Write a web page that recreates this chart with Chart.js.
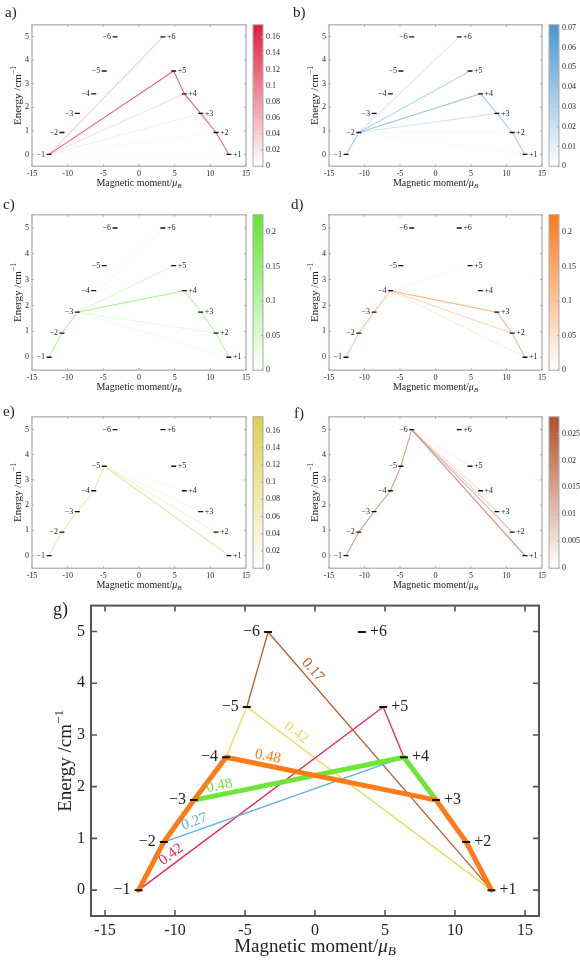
<!DOCTYPE html>
<html>
<head>
<meta charset="utf-8">
<script src="https://cdn.jsdelivr.net/npm/chart.js@4.4.1/dist/chart.umd.min.js"></script>
<style>
  body { margin: 0; background: #fff; width: 580px; height: 960px; position: relative; overflow: hidden; }
  .panel { position: absolute; }
</style>
</head>
<body>
<div class="panel" style="left:0;top:0;width:290px;height:191px"><canvas id="pa"></canvas></div>
<div class="panel" style="left:290px;top:0;width:290px;height:191px"><canvas id="pb"></canvas></div>
<div class="panel" style="left:0;top:190px;width:290px;height:205px"><canvas id="pc"></canvas></div>
<div class="panel" style="left:290px;top:190px;width:290px;height:205px"><canvas id="pd"></canvas></div>
<div class="panel" style="left:0;top:392px;width:290px;height:201px"><canvas id="pe"></canvas></div>
<div class="panel" style="left:290px;top:392px;width:290px;height:201px"><canvas id="pf"></canvas></div>
<div class="panel" style="left:0;top:590px;width:580px;height:370px"><canvas id="pg"></canvas></div>
<script>
// levels: name, magnetic moment (muB), energy (cm-1)
const levelNames = ["−1", "−2", "−3", "−4", "−5", "−6", "+1", "+2", "+3", "+4", "+5", "+6"];
const levelMoment = [-12.6, -10.8, -8.65, -6.35, -4.87, -3.35, 12.6, 10.8, 8.65, 6.35, 4.87, 3.35];
const levelEnergy = [0, 0.93, 1.74, 2.57, 3.54, 4.99, 0, 0.93, 1.74, 2.57, 3.54, 4.99];
const momentTicks = [-15, -10, -5, 0, 5, 10, 15];
const energyTicks = [0, 1, 2, 3, 4, 5];

// panels a-f: [from, to, value]
const transA = [["−1", "+6", 0.04], ["−1", "+5", 0.12], ["−1", "+4", 0.025], ["−1", "+3", 0.015],
  ["−1", "+2", 0.005], ["−1", "+1", 0.003], ["+5", "+4", 0.12], ["+4", "+3", 0.12], ["+3", "+2", 0.12], ["+2", "+1", 0.12]];
const transB = [["−1", "−2", 0.035], ["−2", "+6", 0.013], ["−2", "+5", 0.028], ["−2", "+4", 0.04], ["−2", "+3", 0.018],
  ["−2", "+2", 0.004], ["−2", "+1", 0.003], ["+4", "+3", 0.035], ["+3", "+2", 0.035], ["+2", "+1", 0.035]];
const transC = [["−1", "−2", 0.1], ["−2", "−3", 0.1], ["−3", "+6", 0.02], ["−3", "+5", 0.05], ["−3", "+4", 0.13],
  ["−3", "+2", 0.04], ["−3", "+1", 0.025], ["+4", "+3", 0.1], ["+3", "+2", 0.1], ["+2", "+1", 0.1]];
const transD = [["−1", "−2", 0.1], ["−2", "−3", 0.1], ["−3", "−4", 0.1], ["−4", "+5", 0.012], ["−4", "+3", 0.13],
  ["−4", "+2", 0.07], ["−4", "+1", 0.03], ["+3", "+2", 0.12], ["+2", "+1", 0.12]];
const transE = [["−1", "−2", 0.08], ["−2", "−3", 0.08], ["−3", "−4", 0.08], ["−4", "−5", 0.08], ["−5", "+4", 0.02],
  ["−5", "+3", 0.03], ["−5", "+2", 0.05], ["−5", "+1", 0.1]];
const transF = [["−1", "−2", 0.015], ["−2", "−3", 0.015], ["−3", "−4", 0.015], ["−4", "−5", 0.015], ["−5", "−6", 0.015],
  ["−6", "+5", 0.002], ["−6", "+4", 0.004], ["−6", "+3", 0.007], ["−6", "+2", 0.012], ["−6", "+1", 0.018]];
const cbMax = [0.1755, 0.0715, 0.225, 0.225, 0.176, 0.0281];
const cbStep = [0.02, 0.01, 0.05, 0.05, 0.02, 0.005];

// panel g: pathways and their values
const pathOrange = ["−1", "−2", "−3", "−4", "+3", "+2", "+1"];
const pathGreen = ["−3", "+4", "+3"];
const pathBlue = ["−2", "+4"];
const pathRed = ["−1", "+5", "+4"];
const pathYellow = ["−4", "−5", "+1"];
const pathBrown = ["−5", "−6", "+1"];
const pathValues = ["0.48", "0.48", "0.27", "0.42", "0.42", "0.17"];

const SERIF = "'Liberation Serif', 'DejaVu Serif', serif";
Chart.defaults.font.family = SERIF;
Chart.defaults.color = "#222";

function pt(n) {
  const i = levelNames.indexOf(n);
  return { x: levelMoment[i], y: levelEnergy[i] };
}
function rgb(c) { return "rgb(" + c.join(",") + ")"; }
function mix(c, f) {
  f = Math.max(0, Math.min(1, f));
  return rgb(c.map(v => Math.round(255 + (v - 255) * f)));
}

function drawRich(ctx, parts, x, y, size) {
  let w = 0;
  const fnt = p => (p[1] ? "italic " : "") + (size * p[2]) + "px " + SERIF;
  parts.forEach(p => { ctx.font = fnt(p); w += ctx.measureText(p[0]).width; });
  let cx = x - w / 2;
  ctx.textAlign = "left";
  ctx.textBaseline = "middle";
  parts.forEach(p => {
    ctx.font = fnt(p);
    ctx.fillText(p[0], cx, y + p[3] * size);
    cx += ctx.measureText(p[0]).width;
  });
}

const figPlugin = {
  id: "fig",
  beforeDatasetsDraw(chart, args, o) {
    if (!o.cb) return;
    const { ctx, chartArea: a, scales } = chart;
    const cb = scales.cb;
    const x0 = a.right + 7, w = 10;
    ctx.save();
    const g = ctx.createLinearGradient(0, a.bottom, 0, a.top);
    g.addColorStop(0, "#fff");
    g.addColorStop(1, rgb(o.cb));
    ctx.fillStyle = g;
    ctx.fillRect(x0, a.top, w, a.bottom - a.top);
    ctx.strokeStyle = o.frame;
    ctx.lineWidth = 1;
    ctx.strokeRect(x0, a.top, w, a.bottom - a.top);
    cb.ticks.forEach(t => {
      const y = cb.getPixelForValue(t.value);
      ctx.beginPath(); ctx.moveTo(x0 + w, y); ctx.lineTo(x0 + w - 2, y); ctx.stroke();
    });
    ctx.restore();
  },
  afterDatasetsDraw(chart, args, o) {
    const { ctx, chartArea: a, scales: { x, y } } = chart;
    ctx.save();
    // frame with inner ticks on all sides
    ctx.strokeStyle = o.frame;
    ctx.lineWidth = o.frameW;
    ctx.strokeRect(a.left, a.top, a.right - a.left, a.bottom - a.top);
    ctx.lineWidth = o.frameW * 0.8;
    x.ticks.forEach(t => {
      const px = x.getPixelForValue(t.value);
      ctx.beginPath();
      ctx.moveTo(px, a.bottom); ctx.lineTo(px, a.bottom - o.tick);
      ctx.moveTo(px, a.top); ctx.lineTo(px, a.top + o.tick);
      ctx.stroke();
    });
    y.ticks.forEach(t => {
      const py = y.getPixelForValue(t.value);
      ctx.beginPath();
      ctx.moveTo(a.left, py); ctx.lineTo(a.left + o.tick, py);
      ctx.moveTo(a.right, py); ctx.lineTo(a.right - o.tick, py);
      ctx.stroke();
    });
    // level names
    ctx.fillStyle = "#222";
    ctx.font = o.levelSize + "px " + SERIF;
    ctx.textBaseline = "middle";
    levelNames.forEach((n, i) => {
      const px = x.getPixelForValue(levelMoment[i]);
      const py = y.getPixelForValue(levelEnergy[i]);
      if (n[0] === "−") { ctx.textAlign = "right"; ctx.fillText(n, px - o.levelGap, py); }
      else { ctx.textAlign = "left"; ctx.fillText(n, px + o.levelGap, py); }
    });
    // values along pathways
    (o.values || []).forEach(v => {
      const p0 = pt(v.from), p1 = pt(v.to);
      const x0 = x.getPixelForValue(p0.x), y0 = y.getPixelForValue(p0.y);
      const x1 = x.getPixelForValue(p1.x), y1 = y.getPixelForValue(p1.y);
      const ang = Math.atan2(y1 - y0, x1 - x0);
      ctx.save();
      ctx.translate(x0 + (x1 - x0) * v.at, y0 + (y1 - y0) * v.at);
      ctx.rotate(ang);
      ctx.fillStyle = v.color;
      ctx.font = o.valueSize + "px " + SERIF;
      ctx.textAlign = "center";
      ctx.textBaseline = "middle";
      ctx.fillText(v.text, 0, -9);
      ctx.restore();
    });
    // axis titles
    ctx.fillStyle = "#222";
    drawRich(ctx, [["Magnetic moment/", false, 1, 0], ["μ", true, 1, 0], ["B", true, 0.7, 0.25]],
      (a.left + a.right) / 2, a.bottom + o.xTitleOff, o.titleSize);
    ctx.save();
    ctx.translate(a.left - o.yTitleOff, (a.top + a.bottom) / 2);
    ctx.rotate(-Math.PI / 2);
    drawRich(ctx, [["Energy /cm", false, 1, 0], ["−1", false, 0.7, -0.35]], 0, 0, o.yTitleSize);
    ctx.restore();
    // panel letter
    ctx.font = o.letterSize + "px " + SERIF;
    ctx.textAlign = "left";
    ctx.textBaseline = "middle";
    ctx.fillText(o.letter[0], o.letter[1], o.letter[2]);
    ctx.restore();
  }
};

function levelDataset(r, w) {
  return {
    data: levelNames.map((n, i) => ({ x: levelMoment[i], y: levelEnergy[i] })),
    showLine: false, pointStyle: "line", pointRadius: r, pointHoverRadius: r,
    borderColor: "#111", backgroundColor: "#111", borderWidth: w
  };
}

function axis(min, max, step, size, pad, fit, fixed) {
  const s = {
    type: "linear", min, max,
    ticks: { stepSize: step, includeBounds: false, autoSkip: false, maxRotation: 0, padding: pad, font: { size }, color: "#222" },
    grid: { display: false, drawTicks: false },
    border: { display: false },
    afterFit: fit
  };
  if (fixed) s.afterBuildTicks = sc => { sc.ticks = fixed.map(v => ({ value: v })); };
  return s;
}

function smallPanel(id, trans, k, color, letter, yw, cbw, padTop) {
  const datasets = [levelDataset(2.5, 1.3)];
  trans.slice().sort((p, q) => q[2] - p[2]).forEach(t => {
    datasets.push({
      data: [pt(t[0]), pt(t[1])], showLine: true, pointRadius: 0,
      borderColor: mix(color, t[2] / cbMax[k]), borderWidth: 1.1
    });
  });
  const cb = axis(0, cbMax[k], cbStep[k], 8, 20, s => { s.width = cbw; });
  cb.position = "right";
  cb.ticks.callback = v => String(+v.toFixed(4));
  new Chart(document.getElementById(id), {
    type: "scatter",
    data: { datasets },
    options: {
      responsive: true, maintainAspectRatio: false, animation: false,
      layout: { padding: { top: padTop, left: 0, right: 0, bottom: 0 } },
      scales: {
        x: axis(-15, 15, 5, 8, 3, s => { s.height = 24; }, momentTicks),
        y: axis(-0.5, 5.5, 1, 8, 3, s => { s.width = yw; }, energyTicks),
        cb
      },
      plugins: {
        legend: { display: false }, tooltip: { enabled: false },
        fig: {
          cb: color, frame: "#a3abab", frameW: 1.2, tick: 2, levelSize: 8, levelGap: 4,
          titleSize: 10, yTitleSize: 11, xTitleOff: 17, yTitleOff: 14, letterSize: 15, letter: letter
        }
      }
    },
    plugins: [figPlugin]
  });
}

smallPanel("pa", transA, 0, [226, 30, 60], ["a)", 5, 13], 32, 44, 4);
smallPanel("pb", transB, 1, [70, 150, 212], ["b)", 3, 13], 39, 38, 4);
smallPanel("pc", transC, 2, [100, 228, 50], ["c)", 3, 15], 32, 44, 18);
smallPanel("pd", transD, 3, [255, 122, 25], ["d)", 1, 15], 39, 38, 18);
smallPanel("pe", transE, 4, [218, 208, 82], ["e)", 3, 20], 32, 44, 14);
smallPanel("pf", transF, 5, [180, 78, 38], ["f)", 4, 22], 39, 38, 14);

// panel g
const gColors = ["#ff7b17", "#6fe53a", "#5bb0de", "#e8275a", "#e2dd55", "#b5602e"];
const gWidths = [5, 5, 1.3, 1.3, 1.3, 1.3];
const gPaths = [pathOrange, pathGreen, pathBlue, pathRed, pathYellow, pathBrown];
const gLabelSeg = [[3, 0.19], [0, 0.13], [0, 0.14], [0, 0.155], [1, 0.18], [1, 0.17]];
const gDatasets = [levelDataset(4, 2)];
gPaths.forEach((p, i) => {
  gDatasets.push({
    data: p.map(pt), showLine: true, pointRadius: 0,
    borderColor: gColors[i], borderWidth: gWidths[i], borderJoinStyle: "round", borderCapStyle: "round"
  });
});
const gValues = gPaths.map((p, i) => ({
  from: p[gLabelSeg[i][0]], to: p[gLabelSeg[i][0] + 1], at: gLabelSeg[i][1], text: pathValues[i],
  color: gColors[i]
}));

new Chart(document.getElementById("pg"), {
  type: "scatter",
  data: { datasets: gDatasets },
  options: {
    responsive: true, maintainAspectRatio: false, animation: false,
    layout: { padding: { top: 12, left: 0, right: 41, bottom: 0 } },
    scales: {
      x: axis(-16, 16, 5, 16, 5, s => { s.height = 44; }, momentTicks),
      y: axis(-0.5, 5.5, 1, 16, 6, s => { s.width = 91; }, energyTicks)
    },
    plugins: {
      legend: { display: false }, tooltip: { enabled: false },
      fig: {
        frame: "#555", frameW: 2, tick: 6, levelSize: 16, levelGap: 8, values: gValues, valueSize: 15,
        titleSize: 19, yTitleSize: 19, xTitleOff: 31, yTitleOff: 25, letterSize: 18, letter: ["g)", 53, 20]
      }
    }
  },
  plugins: [figPlugin]
});
</script>
</body>
</html>
